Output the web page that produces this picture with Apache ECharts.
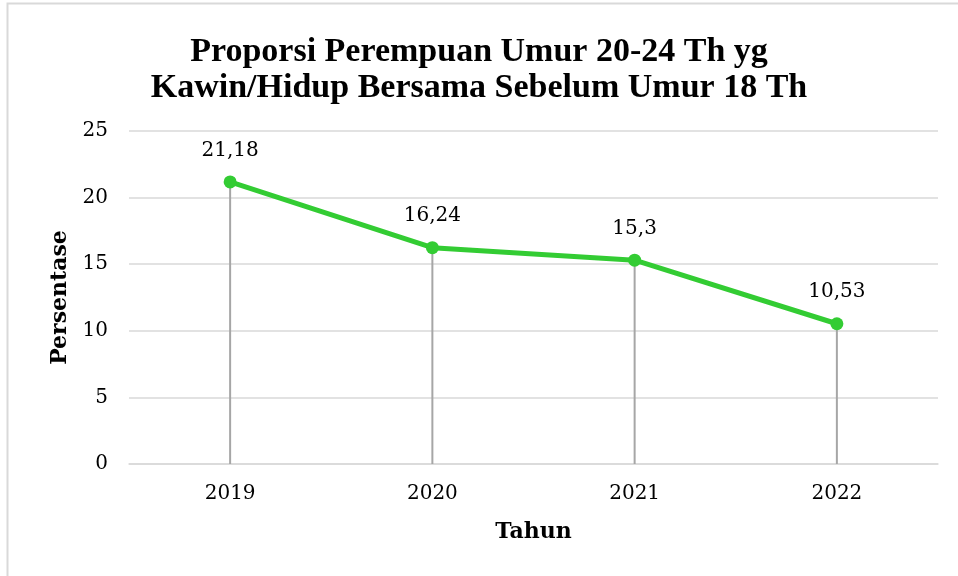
<!DOCTYPE html>
<html>
<head>
<meta charset="utf-8">
<script src="https://cdn.jsdelivr.net/npm/echarts@6/dist/echarts.min.js"></script>
<style>
html, body { margin: 0; padding: 0; background: #fff; }
#main { width: 958px; height: 576px; }
</style>
</head>
<body>
<div id="main"></div>
<script>
var tahun = ['2019', '2020', '2021', '2022'];
var persentase = [21.18, 16.24, 15.3, 10.53];
var yTicks = [0, 5, 10, 15, 20, 25];

var titleFont = 'Liberation Serif';
var font = 'DejaVu Serif';
var chart = echarts.init(document.getElementById('main'));

var option = {
	backgroundColor: '#fff',
	animation: false,
	title: {
		text: 'Proporsi Perempuan Umur 20-24 Th yg\nKawin/Hidup Bersama Sebelum Umur 18 Th',
		left: 'center',
		top: 29,
		textStyle: {
			fontFamily: titleFont,
			fontWeight: 'bold',
			fontSize: 34,
			lineHeight: 36,
			color: '#000'
		}
	},
	graphic: [{
		type: 'rect',
		shape: { x: 7.5, y: 3.5, width: 1000, height: 600 },
		style: { fill: 'none', stroke: '#d9d9d9', lineWidth: 2 }
	}],
	grid: { left: 129, right: 20, top: 131, bottom: 112 },
	xAxis: {
		type: 'category',
		data: tahun,
		name: 'Tahun',
		nameLocation: 'middle',
		nameGap: 57,
		nameTextStyle: { fontFamily: font, fontWeight: 'bold', fontSize: 22, color: '#000' },
		axisLine: { lineStyle: { color: '#d9d9d9', width: 1.5 } },
		axisTick: { show: false },
		axisLabel: { fontFamily: font, fontSize: 20, color: '#000', margin: 20 }
	},
	yAxis: {
		type: 'value',
		min: yTicks[0],
		max: yTicks[yTicks.length - 1],
		interval: 5,
		name: 'Persentase',
		nameLocation: 'middle',
		nameGap: 50,
		nameTextStyle: { fontFamily: font, fontWeight: 'bold', fontSize: 22, color: '#000' },
		axisLine: { show: false },
		axisTick: { show: false },
		splitLine: { lineStyle: { color: '#d9d9d9', width: 1.5 } },
		axisLabel: { fontFamily: font, fontSize: 20, color: '#000', margin: 21 }
	},
	series: [{
		name: 'garis',
		type: 'bar',
		data: persentase,
		barWidth: 2,
		itemStyle: { color: '#a6a6a6' },
		z: 1,
		silent: true
	}, {
		name: 'Persentase',
		type: 'line',
		data: persentase,
		symbol: 'circle',
		symbolSize: 13,
		lineStyle: { color: '#33cc33', width: 5 },
		itemStyle: { color: '#33cc33' },
		z: 3,
		label: {
			show: true,
			position: 'top',
			distance: 15,
			fontFamily: font,
			fontSize: 20,
			color: '#000',
			formatter: function (p) { return String(p.value).replace('.', ','); }
		}
	}]
};

chart.setOption(option);
</script>
</body>
</html>
